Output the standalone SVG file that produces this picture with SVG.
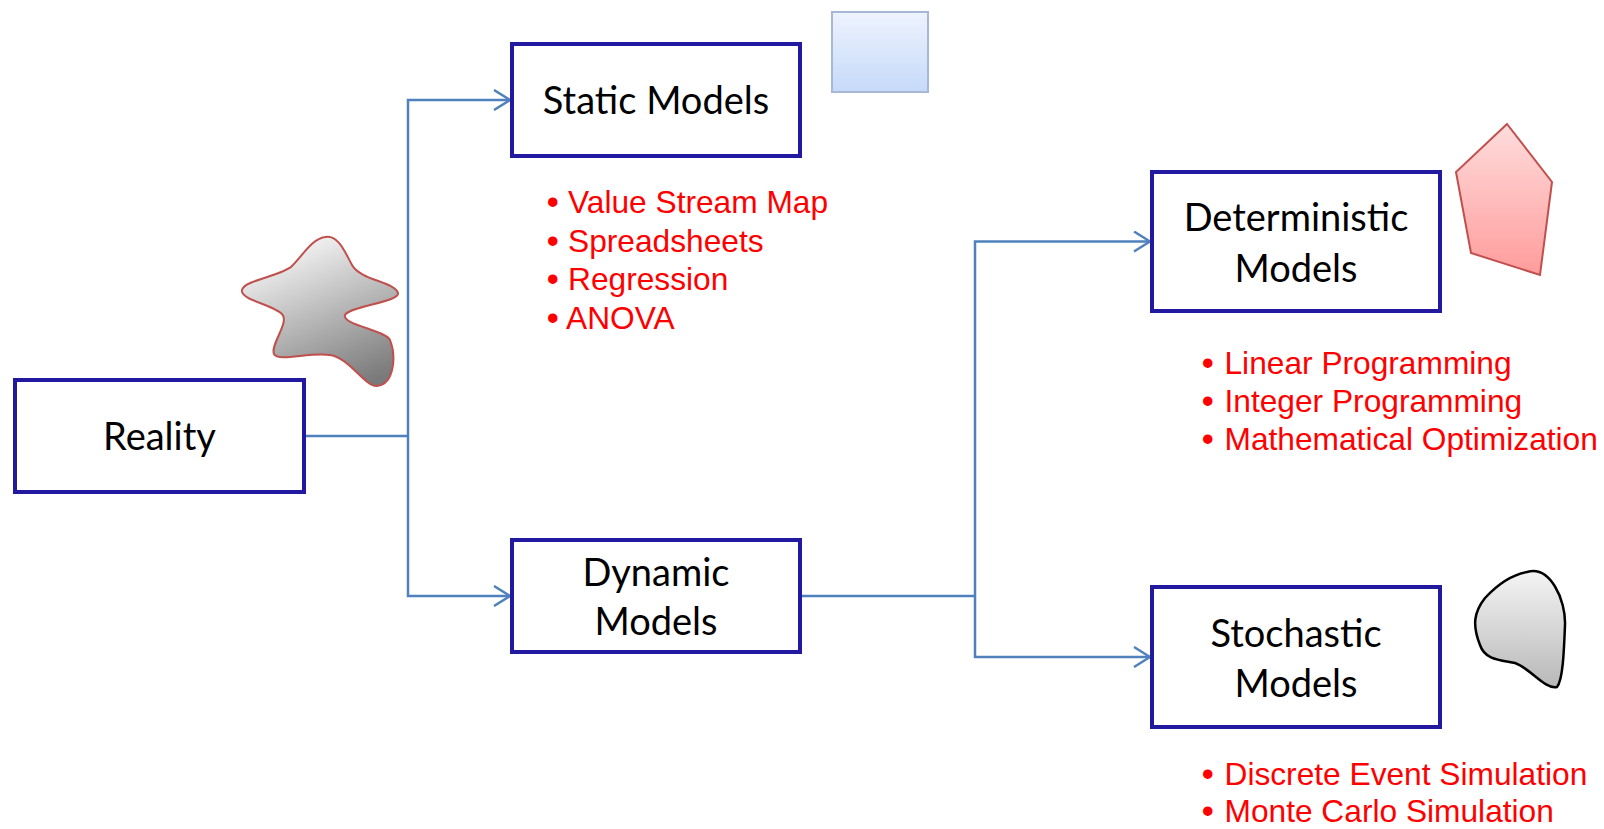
<svg xmlns="http://www.w3.org/2000/svg" width="1604" height="829" viewBox="0 0 1604 829">
<style>
.box{fill:#fff;stroke:#2318A0;stroke-width:4}
.lbl{font-family:Lato,"Noto Sans",sans-serif;font-size:38px;fill:#000;text-anchor:middle}
.red{font-family:"Liberation Sans",Arial,sans-serif;font-size:31.7px;fill:#FF0000}
.bul{font-size:33px;font-weight:bold}
.con{fill:none;stroke:#4F81BD;stroke-width:2.5}
</style>
<defs>
<marker id="arr" viewBox="0 0 18 22" refX="17" refY="11" markerWidth="18" markerHeight="22" markerUnits="userSpaceOnUse" orient="auto">
<path d="M1,1 L17,11 L1,21" fill="none" stroke="#4F81BD" stroke-width="2.5"/>
</marker>
<linearGradient id="gStar" x1="0.3" y1="0" x2="0.75" y2="1">
<stop offset="0" stop-color="#FAFAFA"/><stop offset="1" stop-color="#7A7A7A"/>
</linearGradient>
<linearGradient id="gSq" x1="0" y1="0" x2="0" y2="1">
<stop offset="0" stop-color="#EEF3FE"/><stop offset="1" stop-color="#C6D9F9"/>
</linearGradient>
<linearGradient id="gPent" x1="0" y1="0" x2="0" y2="1">
<stop offset="0" stop-color="#FFDCDC"/><stop offset="1" stop-color="#FF9C9C"/>
</linearGradient>
<linearGradient id="gBlob" x1="0" y1="0" x2="0" y2="1">
<stop offset="0" stop-color="#F4F4F4"/><stop offset="1" stop-color="#B8B8B8"/>
</linearGradient>
</defs>

<g id="decorations">
<path id="star" d="M 325,237 C 338,234 345,252 352,265 C 360,280 395,282 398,293 C 400,302 350,306 345,315 C 342,325 385,330 390,340 C 396,355 395,384 377,386 C 365,387 350,358 330,355 C 310,352 278,362 274,354 C 270,345 290,322 282,314 C 272,304 240,300 242,290 C 244,280 282,276 292,266 C 304,254 312,239 325,237 Z" fill="url(#gStar)" stroke="#C0504D" stroke-width="2"/>
<rect id="square" x="832" y="12" width="96" height="80" fill="url(#gSq)" stroke="#A7B7D4" stroke-width="2"/>
<polygon id="pentagon" points="1507,124 1552,182 1540,275 1471,253 1456,172" fill="url(#gPent)" stroke="#C0504D" stroke-width="2"/>
<path id="blob" d="M 1527,572 C 1550,565 1566,600 1565,625 C 1564,650 1563,680 1557,687 C 1545,690 1530,668 1515,663 C 1500,660 1485,660 1480,645 C 1472,625 1474,612 1485,598 C 1497,585 1510,575 1527,572 Z" fill="url(#gBlob)" stroke="#000" stroke-width="2.5"/>
</g>

<g id="connectors">
<path class="con" d="M304,436 H408"/>
<path class="con" d="M408,436 V100 H510" marker-end="url(#arr)"/>
<path class="con" d="M408,436 V596 H510" marker-end="url(#arr)"/>
<path class="con" d="M800,596 H975"/>
<path class="con" d="M975,596 V241.5 H1150" marker-end="url(#arr)"/>
<path class="con" d="M975,596 V657 H1150" marker-end="url(#arr)"/>
</g>

<g id="reality">
<rect class="box" x="15" y="380" width="289" height="112"/>
<text class="lbl" x="159.5" y="450">Reality</text>
</g>

<g id="static">
<rect class="box" x="512" y="44" width="288" height="112"/>
<text class="lbl" x="656" y="114">Static Models</text>
</g>

<g id="static-list">
<text class="red" x="547" y="213"><tspan class="bul">•</tspan><tspan x="568">Value Stream Map</tspan></text>
<text class="red" x="547" y="251.5"><tspan class="bul">•</tspan><tspan x="568">Spreadsheets</tspan></text>
<text class="red" x="547" y="290"><tspan class="bul">•</tspan><tspan x="568">Regression</tspan></text>
<text class="red" x="547" y="328.5"><tspan class="bul">•</tspan><tspan x="566">ANOVA</tspan></text>
</g>

<g id="dynamic">
<rect class="box" x="512" y="540" width="288" height="112"/>
<text class="lbl" x="656" y="586">Dynamic</text>
<text class="lbl" x="656" y="635">Models</text>
</g>

<g id="deterministic">
<rect class="box" x="1152" y="172" width="288" height="139"/>
<text class="lbl" x="1296" y="231">Deterministic</text>
<text class="lbl" x="1296" y="282">Models</text>
</g>

<g id="deterministic-list">
<text class="red" x="1202" y="373.5"><tspan class="bul">•</tspan><tspan x="1224.5">Linear Programming</tspan></text>
<text class="red" x="1202" y="411.5"><tspan class="bul">•</tspan><tspan x="1224.5">Integer Programming</tspan></text>
<text class="red" x="1202" y="449.5"><tspan class="bul">•</tspan><tspan x="1224.5">Mathematical Optimization</tspan></text>
</g>

<g id="stochastic">
<rect class="box" x="1152" y="587" width="288" height="140"/>
<text class="lbl" x="1296" y="647">Stochastic</text>
<text class="lbl" x="1296" y="697">Models</text>
</g>

<g id="stochastic-list">
<text class="red" x="1202" y="785"><tspan class="bul">•</tspan><tspan x="1224.5">Discrete Event Simulation</tspan></text>
<text class="red" x="1202" y="822"><tspan class="bul">•</tspan><tspan x="1224.5">Monte Carlo Simulation</tspan></text>
</g>
</svg>
